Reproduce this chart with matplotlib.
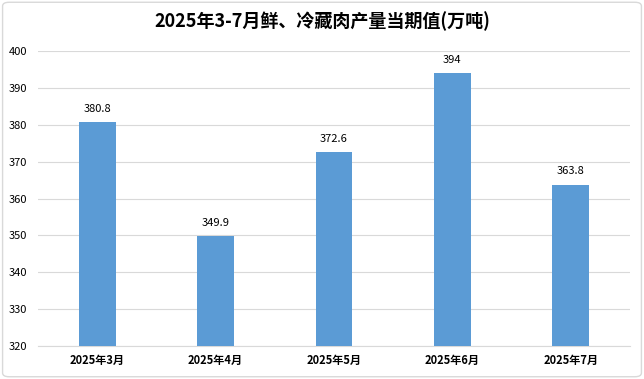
import matplotlib
matplotlib.use("Agg")
from matplotlib import pyplot as plt
from matplotlib.patches import FancyBboxPatch

plt.rcParams['font.family'] = ['Noto Sans CJK SC', 'DejaVu Sans']

# data
months = ['2025年3月', '2025年4月', '2025年5月', '2025年6月', '2025年7月']
values = [380.8, 349.9, 372.6, 394, 363.8]
labels = ['380.8', '349.9', '372.6', '394', '363.8']

fig = plt.figure(figsize=(6.44, 3.79), dpi=100)
ax = fig.add_axes([0.059, 0.087, 0.919, 0.778])

# light frame around the chart
frame = FancyBboxPatch((0.004, 0.006), 0.992, 0.988, boxstyle='round,pad=0,rounding_size=0.01',
                       transform=fig.transFigure, fill=False, edgecolor='#d9d9d9', linewidth=1.0)
fig.patches.append(frame)

x = list(range(len(months)))
ax.bar(x, values, width=0.31, color='#5b9bd5', zorder=3)

for xi, v, lab in zip(x, values, labels):
    ax.text(xi, v + 2.2, lab, ha='center', va='bottom', fontsize=8, fontweight='medium', color='#000000')

ax.set_ylim(320, 400)
ax.set_yticks(range(320, 401, 10))
ax.set_xlim(-0.5, len(months) - 0.5)
ax.set_xticks(x)
ax.set_xticklabels(months, fontsize=8, fontweight='bold')
ax.tick_params(axis='y', labelsize=8, length=0, pad=8)
ax.tick_params(axis='x', length=0, pad=6)
ax.grid(axis='y', color='#d9d9d9', linewidth=0.8, zorder=0)
for s in ['top', 'right', 'left']:
    ax.spines[s].set_visible(False)
ax.spines['bottom'].set_color('#d9d9d9')

fig.text(0.5, 0.945, '2025年3-7月鲜、冷藏肉产量当期值(万吨)', ha='center', va='center',
         fontsize=13, fontweight='bold')

fig.savefig('out.png', dpi=100)
